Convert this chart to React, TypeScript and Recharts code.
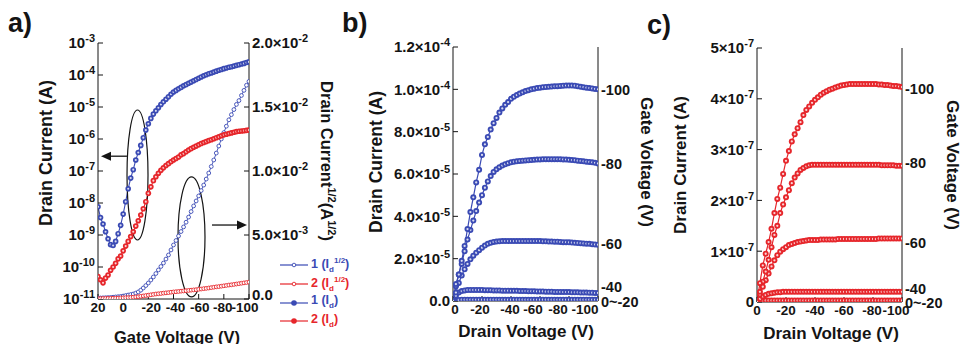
import React from "react";
import {
  LineChart,
  Line,
  XAxis,
  YAxis,
  Legend,
  ReferenceDot,
  ReferenceLine,
} from "recharts";

const FONT = '"Liberation Sans", Arial, Helvetica, sans-serif';
const INK = "#141414";
const BLUE = "#3a4ab4";
const RED = "#e6262b";

// ---------- panel a: transfer curves ----------
const gateVoltage = [
  20, 18, 16, 14, 12, 10, 8, 6, 4, 2,
  0, -2, -4, -6, -8, -10, -12, -14, -16, -18,
  -20, -22, -24, -26, -28, -30, -32, -34, -36, -38,
  -40, -42, -44, -46, -48, -50, -52, -54, -56, -58,
  -60, -62, -64, -66, -68, -70, -72, -74, -76, -78,
  -80, -82, -84, -86, -88, -90, -92, -94, -96, -98, -100,
];
// device 1, I_d (A)
const drainCurrent1 = [
  7.6e-9, 3.5e-9, 2.2e-9, 1.26e-9, 7.6e-10, 5.0e-10, 4.7e-10, 6.3e-10, 1.1e-9, 2.0e-9,
  4.5e-9, 1.1e-8, 2.8e-8, 6.0e-8, 1.1e-7, 2.2e-7, 3.8e-7, 6.3e-7, 1.1e-6, 1.9e-6,
  3.0e-6, 4.4e-6, 6.0e-6, 7.6e-6, 9.5e-6, 1.2e-5, 1.45e-5, 1.74e-5, 2.1e-5, 2.5e-5,
  2.95e-5, 3.3e-5, 3.7e-5, 4.1e-5, 4.6e-5, 5.0e-5, 5.5e-5, 6.0e-5, 6.6e-5, 7.2e-5,
  7.9e-5, 8.7e-5, 9.5e-5, 1.02e-4, 1.1e-4, 1.15e-4, 1.23e-4, 1.32e-4, 1.41e-4, 1.48e-4,
  1.58e-4, 1.66e-4, 1.74e-4, 1.82e-4, 1.9e-4, 2.0e-4, 2.1e-4, 2.2e-4, 2.3e-4, 2.45e-4, 2.57e-4,
];
// device 2, I_d (A)
const drainCurrent2 = [
  5.0e-11, 4.0e-11, 3.2e-11, 4.5e-11, 5.6e-11, 7.9e-11, 1.0e-10, 1.3e-10, 1.8e-10, 2.2e-10,
  3.2e-10, 4.5e-10, 6.3e-10, 8.9e-10, 1.26e-9, 1.9e-9, 2.8e-9, 4.2e-9, 6.6e-9, 1.1e-8,
  2.0e-8, 3.2e-8, 5.0e-8, 6.6e-8, 8.5e-8, 1.05e-7, 1.26e-7, 1.48e-7, 1.7e-7, 1.95e-7,
  2.2e-7, 2.45e-7, 2.75e-7, 3.2e-7, 3.5e-7, 4.0e-7, 4.5e-7, 5.0e-7, 5.5e-7, 6.0e-7,
  6.6e-7, 7.2e-7, 7.8e-7, 8.3e-7, 8.9e-7, 9.5e-7, 1.02e-6, 1.1e-6, 1.17e-6, 1.26e-6,
  1.35e-6, 1.41e-6, 1.48e-6, 1.55e-6, 1.62e-6, 1.7e-6, 1.74e-6, 1.78e-6, 1.82e-6, 1.86e-6, 1.9e-6,
];
// device 1, I_d^1/2 (A^1/2)
const sqrtCurrent1 = [
  0.8e-4, 0.8e-4, 0.9e-4, 1.0e-4, 1.1e-4, 1.2e-4, 1.4e-4, 1.6e-4, 1.8e-4, 2.0e-4,
  2.3e-4, 2.7e-4, 3.1e-4, 3.5e-4, 3.9e-4, 4.6e-4, 5.5e-4, 6.9e-4, 8.6e-4, 1.05e-3,
  1.25e-3, 1.48e-3, 1.72e-3, 1.99e-3, 2.27e-3, 2.54e-3, 2.81e-3, 3.12e-3, 3.44e-3, 3.83e-3,
  4.22e-3, 4.57e-3, 4.92e-3, 5.27e-3, 5.63e-3, 6.0e-3, 6.4e-3, 6.83e-3, 7.27e-3, 7.66e-3,
  8.05e-3, 8.47e-3, 8.9e-3, 9.37e-3, 9.84e-3, 1.035e-2, 1.086e-2, 1.14e-2, 1.195e-2, 1.25e-2,
  1.3e-2, 1.35e-2, 1.4e-2, 1.44e-2, 1.48e-2, 1.52e-2, 1.55e-2, 1.59e-2, 1.63e-2, 1.67e-2, 1.7e-2,
];
// device 2, I_d^1/2 (A^1/2)
const sqrtCurrent2 = [
  0.3e-4, 0.3e-4, 0.4e-4, 0.4e-4, 0.5e-4, 0.5e-4, 0.6e-4, 0.6e-4, 0.7e-4, 0.8e-4,
  0.9e-4, 1.0e-4, 1.1e-4, 1.2e-4, 1.4e-4, 1.6e-4, 1.8e-4, 2.1e-4, 2.4e-4, 2.7e-4,
  3.0e-4, 3.3e-4, 3.6e-4, 3.9e-4, 4.1e-4, 4.3e-4, 4.6e-4, 4.8e-4, 5.0e-4, 5.3e-4,
  5.5e-4, 5.7e-4, 5.9e-4, 6.1e-4, 6.3e-4, 6.5e-4, 6.7e-4, 6.9e-4, 7.1e-4, 7.3e-4,
  7.6e-4, 7.8e-4, 8.1e-4, 8.3e-4, 8.6e-4, 8.9e-4, 9.2e-4, 9.5e-4, 9.7e-4, 1.0e-3,
  1.03e-3, 1.06e-3, 1.09e-3, 1.11e-3, 1.14e-3, 1.17e-3, 1.2e-3, 1.23e-3, 1.26e-3, 1.29e-3, 1.32e-3,
];
const gateTicks = [20, 0, -20, -40, -60, -80, -100];
const logTicks = [1e-11, 1e-10, 1e-9, 1e-8, 1e-7, 1e-6, 1e-5, 1e-4, 1e-3];
const sqrtTicks = [0, 5e-3, 1e-2, 1.5e-2, 2e-2];
const logMinorTicks: number[] = [];
logTicks.slice(0, -1).forEach((d) => {
  for (let k = 2; k <= 9; k++) logMinorTicks.push(d * k);
});
// annotation ellipses [gate V, current] and arrows [tailV, tipV, current]
const ellipses = [
  { vg: -11.4, id: 7.5e-8, rx: 10.5, ry: 65 },
  { vg: -54.3, id: 8.7e-10, rx: 13.5, ry: 60 },
];
const arrows = [
  { from: -3, to: 17.6, id: 2.9e-7 },
  { from: -70.6, to: -98.4, id: 2.05e-9 },
];

// ---------- panel b / c: output curves ----------
const drainVoltage = [
  0, -2, -4, -6, -8, -10, -12, -14, -16, -18,
  -20, -22, -24, -26, -28, -30, -32, -34, -36, -38,
  -40, -42, -44, -46, -48, -50, -52, -54, -56, -58,
  -60, -62, -64, -66, -68, -70, -72, -74, -76, -78,
  -80, -82, -84, -86, -88, -90, -92, -94, -96, -98, -100,
];
const outB100 = [
  0, 0.8e-5, 1.25e-5, 1.9e-5, 2.6e-5, 3.4e-5, 4.2e-5, 4.9e-5, 5.6e-5, 6.2e-5,
  6.9e-5, 7.4e-5, 7.75e-5, 8.1e-5, 8.4e-5, 8.65e-5, 8.9e-5, 9.1e-5, 9.27e-5, 9.4e-5,
  9.55e-5, 9.65e-5, 9.73e-5, 9.8e-5, 9.86e-5, 9.92e-5, 9.96e-5, 10.0e-5, 10.03e-5, 10.06e-5,
  10.08e-5, 10.1e-5, 10.11e-5, 10.12e-5, 10.13e-5, 10.14e-5, 10.15e-5, 10.16e-5, 10.17e-5, 10.18e-5,
  10.18e-5, 10.18e-5, 10.17e-5, 10.15e-5, 10.12e-5, 10.1e-5, 10.08e-5, 10.06e-5, 10.04e-5, 10.02e-5, 10.0e-5,
];
const outB80 = [
  0, 0.7e-5, 1.25e-5, 1.75e-5, 2.35e-5, 2.9e-5, 3.35e-5, 3.8e-5, 4.25e-5, 4.65e-5,
  5.0e-5, 5.35e-5, 5.65e-5, 5.9e-5, 6.1e-5, 6.22e-5, 6.32e-5, 6.4e-5, 6.46e-5, 6.51e-5,
  6.55e-5, 6.58e-5, 6.6e-5, 6.62e-5, 6.63e-5, 6.64e-5, 6.65e-5, 6.66e-5, 6.67e-5, 6.68e-5,
  6.69e-5, 6.7e-5, 6.7e-5, 6.7e-5, 6.7e-5, 6.7e-5, 6.7e-5, 6.7e-5, 6.69e-5, 6.68e-5,
  6.67e-5, 6.66e-5, 6.65e-5, 6.63e-5, 6.62e-5, 6.6e-5, 6.58e-5, 6.57e-5, 6.55e-5, 6.53e-5, 6.5e-5,
];
const outB60 = [
  0, 0.4e-5, 0.85e-5, 1.2e-5, 1.5e-5, 1.75e-5, 1.97e-5, 2.14e-5, 2.28e-5, 2.4e-5,
  2.52e-5, 2.62e-5, 2.7e-5, 2.75e-5, 2.79e-5, 2.81e-5, 2.82e-5, 2.83e-5, 2.83e-5, 2.83e-5,
  2.83e-5, 2.83e-5, 2.83e-5, 2.83e-5, 2.83e-5, 2.83e-5, 2.83e-5, 2.83e-5, 2.83e-5, 2.83e-5,
  2.83e-5, 2.82e-5, 2.82e-5, 2.81e-5, 2.81e-5, 2.8e-5, 2.8e-5, 2.79e-5, 2.78e-5, 2.78e-5,
  2.77e-5, 2.76e-5, 2.75e-5, 2.74e-5, 2.73e-5, 2.72e-5, 2.71e-5, 2.7e-5, 2.68e-5, 2.67e-5, 2.66e-5,
];
const outB40 = [
  0, 0.25e-5, 0.4e-5, 0.47e-5, 0.5e-5, 0.52e-5, 0.52e-5, 0.52e-5, 0.52e-5, 0.52e-5,
  0.52e-5, 0.51e-5, 0.51e-5, 0.51e-5, 0.5e-5, 0.5e-5, 0.5e-5, 0.49e-5, 0.49e-5, 0.49e-5,
  0.48e-5, 0.48e-5, 0.48e-5, 0.47e-5, 0.47e-5, 0.47e-5, 0.46e-5, 0.46e-5, 0.46e-5, 0.45e-5,
  0.45e-5, 0.45e-5, 0.44e-5, 0.44e-5, 0.44e-5, 0.43e-5, 0.43e-5, 0.43e-5, 0.42e-5, 0.42e-5,
  0.42e-5, 0.41e-5, 0.41e-5, 0.41e-5, 0.4e-5, 0.4e-5, 0.4e-5, 0.39e-5, 0.39e-5, 0.38e-5, 0.38e-5,
];
const outB20 = [
  0, 0.03e-5, 0.05e-5, 0.06e-5, 0.06e-5, 0.06e-5, 0.06e-5, 0.06e-5, 0.06e-5, 0.06e-5,
  0.06e-5, 0.06e-5, 0.06e-5, 0.06e-5, 0.06e-5, 0.06e-5, 0.06e-5, 0.06e-5, 0.06e-5, 0.06e-5,
  0.06e-5, 0.06e-5, 0.06e-5, 0.06e-5, 0.06e-5, 0.06e-5, 0.06e-5, 0.06e-5, 0.06e-5, 0.06e-5,
  0.06e-5, 0.06e-5, 0.06e-5, 0.06e-5, 0.06e-5, 0.06e-5, 0.06e-5, 0.06e-5, 0.06e-5, 0.06e-5,
  0.06e-5, 0.06e-5, 0.06e-5, 0.06e-5, 0.06e-5, 0.06e-5, 0.06e-5, 0.06e-5, 0.06e-5, 0.06e-5, 0.06e-5,
];
const outB0 = [
  0, 0.01e-5, 0.01e-5, 0.01e-5, 0.01e-5, 0.01e-5, 0.01e-5, 0.01e-5, 0.01e-5, 0.01e-5,
  0.01e-5, 0.01e-5, 0.01e-5, 0.01e-5, 0.01e-5, 0.01e-5, 0.01e-5, 0.01e-5, 0.01e-5, 0.01e-5,
  0.01e-5, 0.01e-5, 0.01e-5, 0.01e-5, 0.01e-5, 0.01e-5, 0.01e-5, 0.01e-5, 0.01e-5, 0.01e-5,
  0.01e-5, 0.01e-5, 0.01e-5, 0.01e-5, 0.01e-5, 0.01e-5, 0.01e-5, 0.01e-5, 0.01e-5, 0.01e-5,
  0.01e-5, 0.01e-5, 0.01e-5, 0.01e-5, 0.01e-5, 0.01e-5, 0.01e-5, 0.01e-5, 0.01e-5, 0.01e-5, 0.01e-5,
];

const outC100 = [
  0, 0.37e-7, 0.72e-7, 0.95e-7, 1.18e-7, 1.44e-7, 1.75e-7, 2.03e-7, 2.25e-7, 2.52e-7,
  2.78e-7, 2.97e-7, 3.16e-7, 3.3e-7, 3.42e-7, 3.54e-7, 3.68e-7, 3.78e-7, 3.85e-7, 3.92e-7,
  3.98e-7, 4.03e-7, 4.08e-7, 4.12e-7, 4.15e-7, 4.18e-7, 4.2e-7, 4.22e-7, 4.24e-7, 4.26e-7,
  4.27e-7, 4.28e-7, 4.29e-7, 4.29e-7, 4.29e-7, 4.29e-7, 4.29e-7, 4.29e-7, 4.29e-7, 4.29e-7,
  4.29e-7, 4.29e-7, 4.28e-7, 4.28e-7, 4.27e-7, 4.27e-7, 4.26e-7, 4.25e-7, 4.25e-7, 4.24e-7, 4.23e-7,
];
const outC80 = [
  0, 0.2e-7, 0.4e-7, 0.6e-7, 0.83e-7, 1.08e-7, 1.32e-7, 1.5e-7, 1.75e-7, 1.92e-7,
  2.06e-7, 2.2e-7, 2.34e-7, 2.45e-7, 2.53e-7, 2.6e-7, 2.64e-7, 2.67e-7, 2.69e-7, 2.7e-7,
  2.7e-7, 2.7e-7, 2.7e-7, 2.7e-7, 2.7e-7, 2.7e-7, 2.7e-7, 2.7e-7, 2.7e-7, 2.7e-7,
  2.7e-7, 2.7e-7, 2.7e-7, 2.7e-7, 2.7e-7, 2.7e-7, 2.7e-7, 2.7e-7, 2.7e-7, 2.7e-7,
  2.7e-7, 2.7e-7, 2.7e-7, 2.69e-7, 2.69e-7, 2.69e-7, 2.69e-7, 2.69e-7, 2.68e-7, 2.68e-7, 2.68e-7,
];
const outC60 = [
  0, 0.15e-7, 0.3e-7, 0.43e-7, 0.56e-7, 0.7e-7, 0.82e-7, 0.92e-7, 0.99e-7, 1.04e-7,
  1.08e-7, 1.12e-7, 1.14e-7, 1.16e-7, 1.18e-7, 1.19e-7, 1.2e-7, 1.21e-7, 1.22e-7, 1.22e-7,
  1.22e-7, 1.22e-7, 1.23e-7, 1.23e-7, 1.23e-7, 1.23e-7, 1.23e-7, 1.23e-7, 1.24e-7, 1.24e-7,
  1.24e-7, 1.24e-7, 1.24e-7, 1.24e-7, 1.24e-7, 1.24e-7, 1.24e-7, 1.24e-7, 1.24e-7, 1.24e-7,
  1.24e-7, 1.24e-7, 1.25e-7, 1.25e-7, 1.25e-7, 1.25e-7, 1.25e-7, 1.25e-7, 1.25e-7, 1.25e-7, 1.25e-7,
];
const outC40 = [
  0, 0.06e-7, 0.11e-7, 0.14e-7, 0.16e-7, 0.17e-7, 0.18e-7, 0.19e-7, 0.19e-7, 0.2e-7,
  0.2e-7, 0.2e-7, 0.2e-7, 0.2e-7, 0.2e-7, 0.2e-7, 0.2e-7, 0.2e-7, 0.2e-7, 0.2e-7,
  0.2e-7, 0.2e-7, 0.2e-7, 0.2e-7, 0.2e-7, 0.2e-7, 0.2e-7, 0.2e-7, 0.2e-7, 0.2e-7,
  0.2e-7, 0.2e-7, 0.2e-7, 0.2e-7, 0.2e-7, 0.2e-7, 0.2e-7, 0.2e-7, 0.2e-7, 0.2e-7,
  0.2e-7, 0.2e-7, 0.2e-7, 0.2e-7, 0.2e-7, 0.2e-7, 0.2e-7, 0.2e-7, 0.2e-7, 0.2e-7, 0.2e-7,
];
const outC20 = [
  0, 0.02e-7, 0.03e-7, 0.03e-7, 0.03e-7, 0.03e-7, 0.03e-7, 0.03e-7, 0.03e-7, 0.03e-7,
  0.03e-7, 0.03e-7, 0.03e-7, 0.03e-7, 0.03e-7, 0.03e-7, 0.03e-7, 0.03e-7, 0.03e-7, 0.03e-7,
  0.03e-7, 0.03e-7, 0.03e-7, 0.03e-7, 0.03e-7, 0.03e-7, 0.03e-7, 0.03e-7, 0.03e-7, 0.03e-7,
  0.03e-7, 0.03e-7, 0.03e-7, 0.03e-7, 0.03e-7, 0.03e-7, 0.03e-7, 0.03e-7, 0.03e-7, 0.03e-7,
  0.03e-7, 0.03e-7, 0.03e-7, 0.03e-7, 0.03e-7, 0.03e-7, 0.03e-7, 0.03e-7, 0.03e-7, 0.03e-7, 0.03e-7,
];
const outC0 = [
  0, 0.01e-7, 0.01e-7, 0.01e-7, 0.01e-7, 0.01e-7, 0.01e-7, 0.01e-7, 0.01e-7, 0.01e-7,
  0.01e-7, 0.01e-7, 0.01e-7, 0.01e-7, 0.01e-7, 0.01e-7, 0.01e-7, 0.01e-7, 0.01e-7, 0.01e-7,
  0.01e-7, 0.01e-7, 0.01e-7, 0.01e-7, 0.01e-7, 0.01e-7, 0.01e-7, 0.01e-7, 0.01e-7, 0.01e-7,
  0.01e-7, 0.01e-7, 0.01e-7, 0.01e-7, 0.01e-7, 0.01e-7, 0.01e-7, 0.01e-7, 0.01e-7, 0.01e-7,
  0.01e-7, 0.01e-7, 0.01e-7, 0.01e-7, 0.01e-7, 0.01e-7, 0.01e-7, 0.01e-7, 0.01e-7, 0.01e-7, 0.01e-7,
];

const drainTicks = [0, -20, -40, -60, -80, -100];
const currentTicksB = [0, 2e-5, 4e-5, 6e-5, 8e-5, 1e-4, 1.2e-4];
const minorTicksB = [1e-5, 3e-5, 5e-5, 7e-5, 9e-5, 1.1e-4];
const currentTicksC = [0, 1e-7, 2e-7, 3e-7, 4e-7, 5e-7];
const minorTicksC = [0.5e-7, 1.5e-7, 2.5e-7, 3.5e-7, 4.5e-7];
const gateLabels = ["-100", "-80", "-60", "-40", "0~-20"];
const last = (a: number[]) => a[a.length - 1];
const gateTicksB = [last(outB100), last(outB80), last(outB60), last(outB40), last(outB0)];
const gateTicksC = [last(outC100), last(outC80), last(outC60), last(outC40), last(outC0)];
// label placement tweaks (px)
const nudgeB = [0, 0, -1, -6, 1];
const nudgeC = [2, -3, 4, -3, 1.5];
const xNudgeA = [0, 0, 3, 2, 1, -1, -4];
const xNudgeB = [2, -2, -1, -7, -11, -13];
const xNudgeC = [0, 0, 0, 0, -1, -6];

const tableA = gateVoltage.map((vg, i) => ({
  vg,
  id1: drainCurrent1[i],
  id2: drainCurrent2[i],
  sq1: sqrtCurrent1[i],
  sq2: sqrtCurrent2[i],
}));
const tableB = drainVoltage.map((vd, i) => ({
  vd, g100: outB100[i], g80: outB80[i], g60: outB60[i], g40: outB40[i], g20: outB20[i], g0: outB0[i],
}));
const tableC = drainVoltage.map((vd, i) => ({
  vd, g100: outC100[i], g80: outC80[i], g60: outC60[i], g40: outC40[i], g20: outC20[i], g0: outC0[i],
}));

const X_TICK = 13.5;
const Y_TICK = 15;
const SUP_SIZE = 11;
const textBase = { fontFamily: FONT, fontWeight: 700, fill: INK } as const;

function ballDot(color: string, r: number) {
  return (p: any) => {
    if (p.cx == null || p.cy == null) return <g key={`n${p.index}`} />;
    return (
      <g key={`b${p.index}`}>
        <circle cx={p.cx} cy={p.cy} r={r} fill={color} />
        <circle cx={p.cx} cy={p.cy} r={r * 0.38} fill="#fff" fillOpacity={0.8} />
      </g>
    );
  };
}
function ringDot(color: string, r: number) {
  return (p: any) => {
    if (p.cx == null || p.cy == null) return <g key={`n${p.index}`} />;
    return (
      <circle key={`r${p.index}`} cx={p.cx} cy={p.cy} r={r} fill="#fff" stroke={color} strokeWidth={0.9} />
    );
  };
}

function XTick(props: any) {
  const { x, y, payload, values, nudge } = props;
  const i = values ? values.indexOf(payload.value) : -1;
  const dx = nudge && i >= 0 ? nudge[i] : 0;
  return (
    <text x={x + dx} y={y} dy="0.72em" textAnchor="middle" fontSize={X_TICK} {...textBase}>
      {String(payload.value)}
    </text>
  );
}
function PowTick(props: any) {
  const { x, y, payload } = props;
  const e = Math.round(Math.log10(payload.value));
  return (
    <text x={x} y={y} dy="0.36em" textAnchor="end" fontSize={Y_TICK} {...textBase}>
      10<tspan dy={-6} fontSize={SUP_SIZE}>{e}</tspan>
    </text>
  );
}
function SciTick(props: any) {
  const { x, y, payload, digits, zero, anchor, nudge0 } = props;
  const v = payload.value;
  if (v === 0) {
    return (
      <text x={x} y={y + (nudge0 || 0)} dy="0.36em" textAnchor={anchor} fontSize={Y_TICK} {...textBase}>
        {zero}
      </text>
    );
  }
  const e = Math.floor(Math.log10(Math.abs(v)) + 1e-9);
  const m = (v / Math.pow(10, e)).toFixed(digits);
  return (
    <text x={x} y={y} dy="0.36em" textAnchor={anchor} fontSize={Y_TICK} {...textBase}>
      {m}×10<tspan dy={-6} fontSize={SUP_SIZE}>{e}</tspan>
    </text>
  );
}
function GateTick(props: any) {
  const { x, y, payload, values, nudge } = props;
  const i = values.indexOf(payload.value);
  return (
    <text x={x} y={y + (nudge[i] || 0)} dy="0.36em" textAnchor="start" fontSize={14.5} {...textBase}>
      {gateLabels[i]}
    </text>
  );
}

function vTitle(dx: number, dy: number, angle: number, size: number, body: React.ReactNode) {
  return {
    content: (p: any) => {
      const vb = p.viewBox || { x: 0, y: 0 };
      const x = vb.x + dx;
      const y = vb.y + dy;
      return (
        <text x={x} y={y} transform={`rotate(${angle} ${x} ${y})`} textAnchor="middle" fontSize={size} {...textBase}>
          {body}
        </text>
      );
    },
  };
}
function hTitle(dx: number, dy: number, size: number, body: string) {
  return {
    content: (p: any) => {
      const vb = p.viewBox || { x: 0, y: 0, width: 0 };
      const x = vb.x + vb.width / 2 + dx;
      const y = vb.y + dy;
      return (
        <text x={x} y={y} textAnchor="middle" fontSize={size} {...textBase}>
          {body}
        </text>
      );
    },
  };
}

function Arrow(p: any) {
  const { x1, y1, x2, y2 } = p;
  const ang = Math.atan2(y2 - y1, x2 - x1);
  const len = 10;
  const half = 4.5;
  const bx = x2 - len * Math.cos(ang);
  const by = y2 - len * Math.sin(ang);
  const nx = -Math.sin(ang) * half;
  const ny = Math.cos(ang) * half;
  return (
    <g>
      <line x1={x1} y1={y1} x2={bx} y2={by} stroke={INK} strokeWidth={1.3} />
      <polygon points={`${x2},${y2} ${bx + nx},${by + ny} ${bx - nx},${by - ny}`} fill={INK} />
    </g>
  );
}

const legendEntries = [
  { name: "1", root: true, color: BLUE },
  { name: "2", root: true, color: RED },
  { name: "1", root: false, color: BLUE },
  { name: "2", root: false, color: RED },
];

function LegendA() {
  return (
    <div style={{ fontFamily: FONT, fontWeight: 700, fontSize: 12.5 }}>
      {legendEntries.map((e, i) => (
        <div key={i} style={{ display: "flex", alignItems: "center", height: 18.7, color: e.color }}>
          <svg width={28} height={10}>
            <line x1={0} y1={5} x2={28} y2={5} stroke={e.color} strokeWidth={1.2} />
            {e.root ? (
              <circle cx={14} cy={5} r={1.8} fill="#fff" stroke={e.color} strokeWidth={0.9} />
            ) : (
              <circle cx={14} cy={5} r={2.8} fill={e.color} />
            )}
          </svg>
          <span style={{ marginLeft: 3, whiteSpace: "nowrap", lineHeight: "12px" }}>
            {e.name} (I<sub style={{ fontSize: 8 }}>d</sub>
            {e.root ? <sup style={{ fontSize: 8 }}>1/2</sup> : null})
          </span>
        </div>
      ))}
    </div>
  );
}

function PanelA() {
  return (
    <LineChart width={360} height={344} data={tableA} margin={{ top: 43, right: 0, bottom: 0, left: 0 }}>
      <XAxis
        xAxisId="x" dataKey="vg" type="number" domain={[-100, 20]} reversed allowDataOverflow
        ticks={gateTicks} interval={0} height={45} tickSize={-5} tickMargin={8}
        stroke={INK} tick={<XTick values={gateTicks} nudge={xNudgeA} />}
        label={hTitle(3.5, 44, 16.5, "Gate Voltage (V)")}
      />
      <XAxis
        xAxisId="top" orientation="top" type="number" domain={[-100, 20]} reversed allowDataOverflow
        height={0} tick={false} tickLine={false} stroke={INK}
      />
      <YAxis
        yAxisId="minor" mirror scale="log" type="number" domain={[1e-11, 1e-3]} allowDataOverflow
        ticks={logMinorTicks} interval={0} tick={false} tickSize={3} axisLine={false} width={0} stroke={INK}
      />
      <YAxis
        yAxisId="log" scale="log" type="number" domain={[1e-11, 1e-3]} allowDataOverflow
        ticks={logTicks} interval={0} width={98} tickSize={-5} tickMargin={8} stroke={INK}
        tick={<PowTick />} label={vTitle(52, 110, -90, 18, "Drain Current (A)")}
      />
      <YAxis
        yAxisId="sq" orientation="right" type="number" domain={[0, 0.02]} allowDataOverflow
        ticks={sqrtTicks} interval={0} width={111} tickSize={-5} tickMargin={8} stroke={INK}
        tick={<SciTick digits={1} zero="0.0" anchor="start" nudge0={-4} />}
        label={vTitle(72, 118, 90, 16.5, (
          <>
            <tspan>Drain Current</tspan>
            <tspan dy={-7} fontSize={11}>1/2</tspan>
            <tspan dy={7}>(A</tspan>
            <tspan dy={-7} fontSize={11}>1/2</tspan>
            <tspan dy={7}>)</tspan>
          </>
        ))}
      />
      <Legend
        verticalAlign="middle" align="center" layout="horizontal"
        wrapperStyle={{ left: 280, top: 256, width: 80, height: 76 }}
        content={() => <LegendA />}
      />
      <Line xAxisId="x" yAxisId="sq" dataKey="sq1" stroke={BLUE} strokeWidth={0.9} dot={ringDot(BLUE, 1.9)} activeDot={false} isAnimationActive={false} />
      <Line xAxisId="x" yAxisId="sq" dataKey="sq2" stroke={RED} strokeWidth={0.9} dot={ringDot(RED, 1.9)} activeDot={false} isAnimationActive={false} />
      <Line xAxisId="x" yAxisId="log" dataKey="id2" stroke={RED} strokeWidth={1.1} dot={ballDot(RED, 2.8)} activeDot={false} isAnimationActive={false} />
      <Line xAxisId="x" yAxisId="log" dataKey="id1" stroke={BLUE} strokeWidth={1.1} dot={ballDot(BLUE, 2.8)} activeDot={false} isAnimationActive={false} />
      {ellipses.map((e, i) => (
        <ReferenceDot
          key={`e${i}`} xAxisId="x" yAxisId="log" x={e.vg} y={e.id}
          shape={(p: any) => (
            <ellipse cx={p.cx} cy={p.cy} rx={e.rx} ry={e.ry} fill="none" stroke={INK} strokeWidth={1.2} />
          )}
        />
      ))}
      {arrows.map((a, i) => (
        <ReferenceLine
          key={`a${i}`} xAxisId="x" yAxisId="log"
          segment={[{ x: a.from, y: a.id }, { x: a.to, y: a.id }]}
          shape={Arrow}
        />
      ))}
    </LineChart>
  );
}

type OutProps = {
  table: any[];
  color: string;
  left: number;
  width: number;
  top: number;
  yLeftWidth: number;
  yRightWidth: number;
  xHeight: number;
  domainMax: number;
  ticks: number[];
  minor: number[];
  digits: number;
  zero: string;
  gateTicks: number[];
  nudge: number[];
  xNudge: number[];
  titles: { ldx: number; ldy: number; lsize: number; rdx: number; rdy: number; xdx: number; xdy: number };
};

function OutputPanel(o: OutProps) {
  const keys = ["g0", "g20", "g40", "g60", "g80", "g100"];
  return (
    <div style={{ position: "absolute", left: o.left, top: 0 }}>
      <LineChart width={o.width} height={344} data={o.table} margin={{ top: o.top, right: 0, bottom: 0, left: 0 }}>
        <XAxis
          xAxisId="x" dataKey="vd" type="number" domain={[-100, 0]} reversed allowDataOverflow
          ticks={drainTicks} interval={0} height={o.xHeight} tickSize={-5} tickMargin={8}
          stroke={INK} tick={<XTick values={drainTicks} nudge={o.xNudge} />}
          label={hTitle(o.titles.xdx, o.titles.xdy, 17, "Drain Voltage (V)")}
        />
        <XAxis
          xAxisId="top" orientation="top" type="number" domain={[-100, 0]} reversed allowDataOverflow
          height={0} tick={false} tickLine={false} stroke={INK}
        />
        <YAxis
          yAxisId="minor" mirror type="number" domain={[0, o.domainMax]} allowDataOverflow
          ticks={o.minor} interval={0} tick={false} tickSize={3} axisLine={false} width={0} stroke={INK}
        />
        <YAxis
          yAxisId="i" type="number" domain={[0, o.domainMax]} allowDataOverflow
          ticks={o.ticks} interval={0} width={o.yLeftWidth} tickSize={-5} tickMargin={8} stroke={INK}
          tick={<SciTick digits={o.digits} zero={o.zero} anchor="end" />}
          label={vTitle(o.titles.ldx, o.titles.ldy, -90, o.titles.lsize, "Drain Current (A)")}
        />
        <YAxis
          yAxisId="g" orientation="right" type="number" domain={[0, o.domainMax]} allowDataOverflow
          ticks={o.gateTicks} interval={0} width={o.yRightWidth} tickLine={false} tickSize={0} tickMargin={3}
          stroke={INK} tick={<GateTick values={o.gateTicks} nudge={o.nudge} />}
          label={vTitle(o.titles.rdx, o.titles.rdy, 90, 17, "Gate Voltage (V)")}
        />
        {keys.map((k) => (
          <Line
            key={k} xAxisId="x" yAxisId="i" dataKey={k} stroke={o.color} strokeWidth={1.2}
            dot={ballDot(o.color, 3)} activeDot={false} isAnimationActive={false}
          />
        ))}
      </LineChart>
    </div>
  );
}

export default function App() {
  return (
    <div style={{ position: "absolute", left: 0, top: 0, width: 962, height: 344, background: "#fff", overflow: "hidden" }}>
      <div style={{ position: "absolute", left: 0, top: 0 }}>
        <PanelA />
      </div>
      <OutputPanel
        table={tableB} color={BLUE} left={340} width={320} top={47}
        yLeftWidth={113} yRightWidth={62} xHeight={43} domainMax={1.2e-4}
        ticks={currentTicksB} minor={minorTicksB} digits={1} zero="0.0"
        gateTicks={gateTicksB} nudge={nudgeB} xNudge={xNudgeB}
        titles={{ ldx: 42, ldy: 115, lsize: 17.5, rdx: 43, rdy: 115, xdx: 0.5, xdy: 36 }}
      />
      <OutputPanel
        table={tableC} color={RED} left={650} width={312} top={48}
        yLeftWidth={107} yRightWidth={60} xHeight={42} domainMax={5e-7}
        ticks={currentTicksC} minor={minorTicksC} digits={0} zero="0"
        gateTicks={gateTicksC} nudge={nudgeC} xNudge={xNudgeC}
        titles={{ ldx: 36, ldy: 117, lsize: 17, rdx: 45, rdy: 117, xdx: 1.5, xdy: 37 }}
      />
      <svg width={962} height={44} style={{ position: "absolute", left: 0, top: 0, pointerEvents: "none" }}>
        <text x={8} y={32} fontSize={27} {...textBase}>a)</text>
        <text x={342} y={32} fontSize={27} {...textBase}>b)</text>
        <text x={647} y={34} fontSize={27} {...textBase}>c)</text>
      </svg>
    </div>
  );
}
